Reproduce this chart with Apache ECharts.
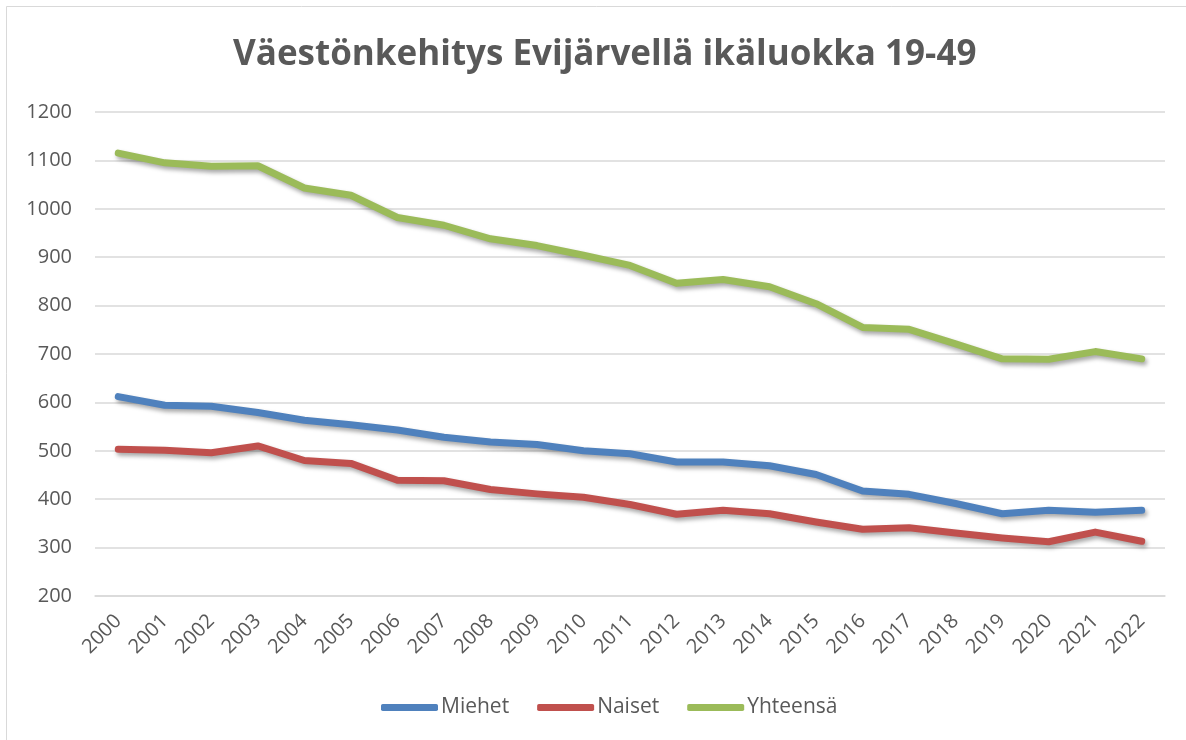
<!DOCTYPE html>
<html>
<head>
<meta charset="utf-8">
<script src="https://cdn.jsdelivr.net/npm/echarts@6/dist/echarts.min.js"></script>
<style>
  html, body { margin: 0; padding: 0; background: #fff; }
  #chart { width: 1186px; height: 740px; }
</style>
</head>
<body>
<div id="chart"></div>
<script>
// vuodet
const years = ['2000','2001','2002','2003','2004','2005','2006','2007','2008','2009','2010',
  '2011','2012','2013','2014','2015','2016','2017','2018','2019','2020','2021','2022'];
// Miehet
const miehet = [612, 594, 592, 579, 563, 554, 543, 528, 518, 513, 500,
  494, 477, 477, 469, 451, 417, 410, 391, 370, 377, 373, 377];
// Naiset
const naiset = [503, 501, 496, 510, 480, 474, 439, 438, 420, 411, 404,
  389, 369, 377, 370, 353, 338, 341, 330, 320, 312, 332, 313];
// Yhteensä
const yhteensa = [1115, 1095, 1088, 1089, 1043, 1028, 982, 966, 938, 924, 904,
  883, 846, 854, 839, 804, 755, 751, 721, 690, 689, 705, 690];

const textColor = '#595959';
const fontFam = '"Open Sans", sans-serif';

let myChart = echarts.init(document.getElementById('chart'));

function lineSeries(name, data, color) {
    return {
        name: name,
        type: 'line',
        data: data,
        symbol: 'none',
        color: color,
        lineStyle: {
            width: 7,
            color: color,
            cap: 'round',
            join: 'round',
            shadowColor: 'rgba(0,0,0,0.35)',
            shadowBlur: 4,
            shadowOffsetX: 2,
            shadowOffsetY: 3
        }
    };
}

let option = {
    backgroundColor: '#fff',
    animation: false,
    graphic: [{
        type: 'rect',
        shape: { x: 6.5, y: 6.5, width: 1200, height: 760 },
        style: { fill: 'none', stroke: '#d9d9d9', lineWidth: 1 },
        silent: true
    }],
    title: {
        text: 'Väestönkehitys Evijärvellä ikäluokka 19-49',
        left: 228,
        top: 33,
        textStyle: {
            fontFamily: fontFam,
            fontWeight: 'bold',
            fontSize: 35,
            color: textColor
        }
    },
    legend: {
        bottom: 17,
        left: 376,
        icon: 'roundRect',
        itemWidth: 57,
        itemHeight: 7,
        itemGap: 28,
        textStyle: { fontFamily: fontFam, fontSize: 21, color: textColor, padding: [0, 0, 0, -2] },
        data: ['Miehet', 'Naiset', 'Yhteensä']
    },
    grid: {
        left: 95,
        right: 21,
        top: 112,
        bottom: 144,
        containLabel: false
    },
    xAxis: {
        type: 'category',
        boundaryGap: true,
        data: years,
        axisLine: { lineStyle: { color: '#d9d9d9', width: 1.5 } },
        axisTick: { show: false },
        axisLabel: {
            rotate: 45,
            margin: 22,
            fontFamily: fontFam,
            fontSize: 20,
            color: textColor
        }
    },
    yAxis: {
        type: 'value',
        min: 200,
        max: 1200,
        interval: 100,
        axisLine: { show: false },
        axisTick: { show: false },
        splitLine: { lineStyle: { color: '#d9d9d9', width: 1.5 } },
        axisLabel: {
            margin: 23,
            fontFamily: fontFam,
            fontSize: 20,
            color: textColor,
            formatter: function (v) { return String(v); }
        }
    },
    series: [
        lineSeries('Miehet', miehet, '#4f81bd'),
        lineSeries('Naiset', naiset, '#c0504d'),
        lineSeries('Yhteensä', yhteensa, '#9bbb59')
    ]
};

myChart.setOption(option);
</script>
</body>
</html>
